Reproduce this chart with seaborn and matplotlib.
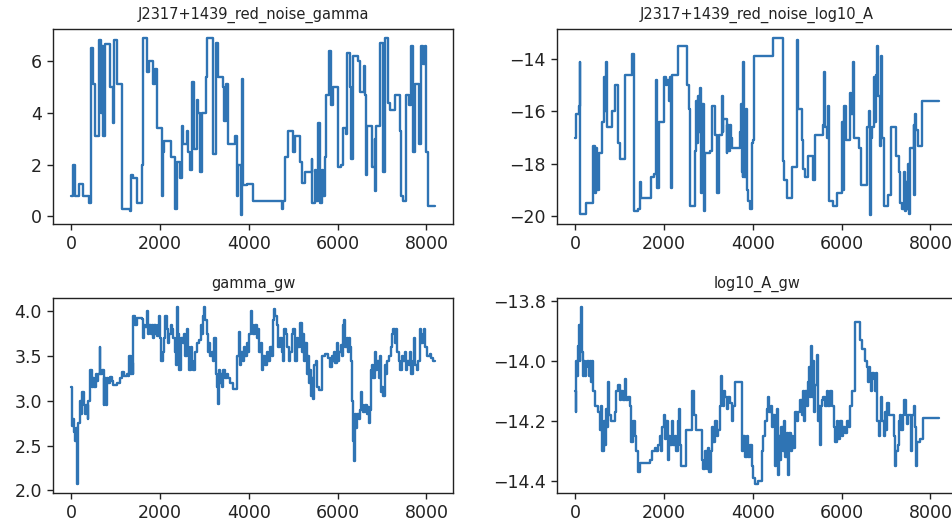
import matplotlib
matplotlib.use("Agg")
import matplotlib.pyplot as plt
import seaborn as sns
import pandas as pd

n_samples = 8190

titles = ["J2317+1439_red_noise_gamma", "J2317+1439_red_noise_log10_A",
          "gamma_gw", "log10_A_gw"]

# --- J2317+1439_red_noise_gamma (step knots: iteration, value)
rn_gamma_iter = [0, 37, 90, 180, 277, 412, 450, 502, 540, 637, 667, 690, 727, 765, 877, 937, 975,
                 1042, 1139, 1327, 1349, 1402, 1477, 1589, 1627, 1702, 1754, 1852, 1889, 1926, 2039,
                 2061, 2091, 2241, 2339, 2376, 2451, 2489, 2526, 2601, 2639, 2676, 2714, 2766, 2826,
                 2864, 2901, 2939, 3036, 3066, 3201, 3261, 3313, 3426, 3441, 3478, 3538, 3688, 3726,
                 3763, 3816, 3853, 3876, 3951, 4101, 4738, 4775, 4813, 4888, 5000, 5038, 5150, 5188,
                 5263, 5413, 5435, 5490, 5525, 5563, 5600, 5638, 5675, 5713, 5735, 5810, 5863, 5900,
                 6012, 6087, 6125, 6200, 6222, 6275, 6312, 6350, 6462, 6500, 6597, 6627, 6649, 6672,
                 6784, 6837, 6852, 6874, 6949, 7024, 7061, 7136, 7174, 7286, 7399, 7436, 7474, 7549,
                 7609, 7661, 7699, 7736, 7833, 7871, 7923, 7961, 7998, 8036]
rn_gamma_val = [0.8, 2.0, 0.8, 1.25, 0.8, 0.5, 6.5, 5.1, 3.1, 6.8, 4.0, 6.6, 3.1, 6.65, 5.0, 3.6, 6.8,
                5.1, 0.3, 0.2, 1.6, 1.5, 0.5, 2.0, 6.9, 5.6, 6.0, 5.1, 5.7, 3.4, 0.8,
                2.5, 2.9, 2.3, 0.3, 2.1, 1.5, 3.5, 2.8, 3.3, 2.5, 1.8, 5.2, 2.6, 4.5,
                4.0, 1.7, 4.0, 5.4, 6.9, 2.4, 6.7, 5.4, 5.0, 3.7, 5.1, 2.8, 3.1, 0.8,
                2.0, 0.05, 5.3, 1.2, 1.25, 0.6, 0.3, 0.6, 2.3, 3.3, 2.5, 3.1, 2.1, 1.3,
                1.7, 2.2, 0.5, 1.8, 0.6, 3.6, 0.5, 1.8, 0.8, 2.3, 4.7, 6.4, 4.3, 5.0,
                1.9, 2.0, 3.4, 3.2, 6.3, 5.0, 2.2, 6.2, 6.0, 4.8, 5.8, 4.7, 1.6, 3.5,
                1.9, 3.0, 1.0, 3.5, 6.7, 1.7, 6.9, 4.4, 4.1, 4.7, 3.3, 0.8, 0.6, 4.7,
                4.3, 6.6, 2.5, 5.1, 2.8, 6.6, 5.9, 6.6, 2.5, 0.4]

# --- J2317+1439_red_noise_log10_A
rn_logA_iter = [0, 23, 75, 98, 113, 248, 399, 437, 459, 489, 527, 610, 640, 662, 685, 715, 835, 896,
                956, 1001, 1114, 1287, 1317, 1415, 1453, 1475, 1701, 1769, 1829, 1851, 1882, 2002,
                2055, 2077, 2107, 2130, 2167, 2190, 2318, 2521, 2559, 2596, 2694, 2732, 2754, 2770,
                2792, 2807, 2845, 2867, 2905, 2928, 3033, 3071, 3146, 3199, 3244, 3296, 3319, 3334,
                3409, 3424, 3454, 3485, 3500, 3530, 3710, 3725, 3748, 3771, 3786, 3808, 3838, 3861,
                3898, 3936, 3974, 4011, 4026, 4463, 4674, 4704, 4764, 4877, 4990, 5012, 5103, 5140,
                5178, 5253, 5366, 5404, 5592, 5615, 5637, 5667, 5690, 5712, 5802, 5908, 6006, 6028,
                6058, 6089, 6194, 6216, 6254, 6284, 6382, 6435, 6570, 6608, 6630, 6660, 6683, 6721,
                6743, 6766, 6796, 6819, 6871, 6886, 6916, 6946, 7037, 7112, 7232, 7285, 7323, 7360,
                7398, 7420, 7443, 7473, 7496, 7526, 7549, 7624, 7639, 7662, 7677, 7714, 7812]
rn_logA_val = [-17.0, -16.1, -15.8, -14.1, -19.9, -19.5, -17.3, -19.1, -17.4, -19.0, -17.6, -16.4,
               -14.7, -16.0, -14.1, -16.6, -16.0, -15.0, -17.2, -17.8, -14.6, -13.8, -19.8, -19.7,
               -18.7, -19.3, -18.5, -18.4, -14.8, -18.9, -16.4, -14.7, -15.0, -14.8, -15.6, -14.7,
               -18.9, -14.6, -13.5, -15.0, -15.9, -19.6, -17.5, -15.6, -17.2, -15.4, -16.8, -15.1,
               -19.1, -15.7, -19.8, -17.6, -17.5, -15.8, -16.9, -19.1, -16.9, -15.4, -16.8, -16.3,
               -17.6, -16.5, -17.5, -16.5, -17.0, -17.4, -16.8, -15.7, -18.3, -18.5, -14.1, -18.5,
               -15.9, -19.0, -19.4, -19.7, -17.2, -17.1, -13.9, -13.2, -17.9, -18.6, -19.3, -18.1,
               -13.3, -15.9, -17.1, -18.2, -18.5, -17.7, -18.6, -16.9, -16.5, -14.5, -16.6, -17.0,
               -15.8, -19.4, -19.6, -19.1, -16.4, -19.0, -15.8, -17.1, -15.3, -16.1, -14.1, -17.0,
               -17.4, -18.8, -16.6, -16.0, -19.95, -17.0, -16.6, -14.7, -16.4, -14.6, -13.5, -15.4,
               -17.3, -13.9, -17.0, -19.6, -19.2, -16.6, -17.7, -18.3, -19.5, -19.7, -18.3, -19.8,
               -18.7, -19.7, -18.0, -19.9, -17.4, -16.5, -19.2, -16.1, -16.7, -17.3, -15.6]

# --- gamma_gw
gw_gamma_iter = [0, 15, 38, 68, 90, 113, 128, 158, 188, 218, 248, 278, 308, 338, 368, 390, 413, 435,
                 458, 488, 518, 548, 578, 608, 638, 653, 690, 728, 750, 773, 803, 840, 878, 915, 953,
                 1028, 1103, 1140, 1193, 1253, 1290, 1313, 1343, 1365, 1388, 1403, 1440, 1478, 1590,
                 1613, 1643, 1673, 1703, 1733, 1763, 1793, 1823, 1853, 1875, 1905, 1928, 1958, 1980,
                 2003, 2033, 2063, 2093, 2123, 2153, 2183, 2213, 2243, 2273, 2303, 2340, 2363, 2385,
                 2415, 2438, 2468, 2513, 2543, 2573, 2603, 2640, 2663, 2693, 2723, 2753, 2783, 2828,
                 2880, 2918, 2948, 2978, 3000, 3023, 3053, 3083, 3113, 3135, 3165, 3203, 3225, 3255,
                 3278, 3300, 3323, 3353, 3375, 3398, 3428, 3465, 3503, 3540, 3578, 3653, 3743, 3773,
                 3803, 3833, 3863, 3893, 3923, 3953, 3983, 4013, 4043, 4073, 4103, 4140, 4178, 4215,
                 4238, 4268, 4298, 4328, 4365, 4403, 4440, 4478, 4515, 4538, 4560, 4590, 4628, 4665,
                 4703, 4740, 4763, 4793, 4838, 4868, 4898, 4928, 4965, 5003, 5040, 5078, 5115, 5153,
                 5190, 5213, 5243, 5273, 5303, 5325, 5355, 5378, 5408, 5430, 5453, 5475, 5513, 5543,
                 5580, 5640, 5715, 5790, 5828, 5865, 5903, 5925, 5948, 5978, 6008, 6038, 6068, 6105,
                 6128, 6150, 6173, 6203, 6225, 6248, 6278, 6300, 6323, 6338, 6368, 6390, 6413, 6435,
                 6473, 6503, 6525, 6548, 6578, 6615, 6653, 6675, 6698, 6728, 6750, 6780, 6803, 6833,
                 6863, 6893, 6923, 6953, 6975, 7005, 7028, 7065, 7088, 7118, 7163, 7193, 7223, 7253,
                 7283, 7313, 7343, 7380, 7403, 7440, 7478, 7515, 7538, 7568, 7598, 7628, 7658, 7688,
                 7718, 7748, 7778, 7815, 7853, 7883, 7913, 7943, 7973, 8003, 8078, 8115, 8153]
gw_gamma_val = [3.16, 2.72, 2.8, 2.65, 2.55, 2.7, 2.07, 2.75, 3.0, 2.85, 3.1, 2.95, 2.85, 2.95, 2.8,
                3.0, 3.15, 3.35, 3.15, 3.25, 3.15, 3.3, 3.22, 3.3, 3.6, 3.3, 3.35, 2.95, 3.25, 2.95,
                3.25, 3.2, 3.27, 3.22, 3.18, 3.2, 3.25, 3.32, 3.28, 3.3, 3.28, 3.5, 3.3, 3.42, 3.3,
                3.95, 3.85, 3.93, 3.92, 3.7, 3.85, 3.82, 4.0, 3.75, 3.85, 3.75, 3.85, 3.7, 3.85,
                3.75, 3.72, 3.85, 3.95, 3.7, 3.45, 3.55, 3.7, 3.95, 3.8, 3.65, 3.75, 3.85, 3.8, 3.7,
                3.55, 3.4, 4.05, 3.75, 3.35, 3.7, 3.65, 3.75, 3.5, 3.8, 3.6, 3.35, 3.6, 3.45, 3.35,
                3.55, 3.65, 3.68, 3.85, 3.75, 3.95, 4.05, 3.9, 3.75, 3.55, 3.65, 3.5, 3.55, 3.45,
                3.7, 3.3, 3.15, 2.97, 3.35, 3.2, 3.3, 3.15, 3.35, 3.25, 3.3, 3.25, 3.2, 3.13, 3.5,
                3.77, 3.4, 3.55, 3.45, 3.6, 3.5, 3.65, 3.55, 3.75, 4.0, 3.85, 3.75, 3.85, 3.7, 3.8,
                3.55, 3.65, 3.35, 3.5, 3.4, 3.55, 3.45, 3.6, 3.5, 3.9, 4.03, 3.95, 3.85, 3.6, 3.7,
                3.55, 3.45, 3.8, 3.75, 3.6, 3.45, 3.55, 3.75, 3.8, 3.45, 3.7, 3.6, 3.87, 3.55, 3.75,
                3.45, 3.65, 3.3, 3.5, 3.2, 3.35, 3.05, 3.25, 3.02, 3.4, 3.45, 3.15, 3.12, 3.5, 3.52,
                3.48, 3.38, 3.5, 3.45, 3.55, 3.42, 3.65, 3.45, 3.55, 3.62, 3.5, 3.85, 3.9, 3.6, 3.7,
                3.55, 3.7, 3.6, 3.45, 3.0, 2.55, 2.33, 2.85, 2.7, 2.85, 2.8, 2.9, 3.1, 2.95, 2.88,
                2.95, 2.85, 2.93, 2.75, 2.9, 3.35, 3.4, 3.25, 3.55, 3.35, 3.45, 3.25, 3.5, 3.1, 3.15,
                3.05, 3.4, 3.3, 3.45, 3.5, 3.6, 3.75, 3.8, 3.65, 3.8, 3.55, 3.45, 3.35, 3.5, 3.45,
                3.55, 3.35, 3.45, 3.4, 3.55, 3.3, 3.45, 3.7, 3.4, 3.35, 3.45, 3.8, 3.65, 3.75, 3.8,
                3.6, 3.5, 3.52, 3.48, 3.45]

# --- log10_A_gw
gw_logA_iter = [0, 8, 15, 30, 53, 75, 98, 113, 128, 151, 173, 196, 218, 248, 271, 301, 324, 346,
                369, 399, 437, 512, 564, 587, 610, 640, 662, 685, 715, 745, 768, 798, 888, 926,
                963, 1001, 1039, 1076, 1114, 1151, 1189, 1227, 1264, 1302, 1340, 1377, 1415, 1453,
                1603, 1678, 1731, 1791, 1829, 1866, 1904, 1942, 1964, 1994, 2024, 2055, 2092, 2115,
                2145, 2175, 2205, 2243, 2280, 2318, 2341, 2371, 2393, 2506, 2634, 2672, 2732, 2852,
                2882, 2920, 2958, 2988, 3018, 3048, 3078, 3108, 3146, 3184, 3221, 3259, 3274, 3296,
                3319, 3349, 3372, 3409, 3447, 3485, 3522, 3560, 3597, 3748, 3786, 3823, 3861, 3898,
                3936, 3974, 4011, 4049, 4124, 4200, 4237, 4275, 4312, 4350, 4373, 4403, 4440, 4463,
                4500, 4523, 4538, 4561, 4583, 4613, 4636, 4674, 4704, 4734, 4764, 4794, 4824, 4854,
                4884, 4914, 4952, 4990, 5027, 5065, 5103, 5140, 5163, 5185, 5215, 5253, 5276, 5298,
                5321, 5343, 5366, 5389, 5411, 5441, 5464, 5487, 5517, 5539, 5569, 5592, 5629, 5667,
                5705, 5742, 5780, 5818, 5840, 5863, 5893, 5930, 5968, 6006, 6043, 6081, 6119, 6156,
                6194, 6231, 6307, 6420, 6457, 6533, 6570, 6593, 6615, 6645, 6668, 6691, 6721, 6743,
                6766, 6796, 6833, 6856, 6886, 6916, 6946, 6969, 6999, 7022, 7059, 7172, 7195, 7232,
                7262, 7293, 7323, 7345, 7383, 7413, 7443, 7473, 7503, 7564, 7594, 7624, 7647, 7669,
                7699, 7774, 7835]
gw_logA_val = [-14.1, -14.17, -14.0, -14.05, -13.95, -13.88, -14.0, -13.88, -13.82, -13.97, -14.05,
               -14.0, -14.05, -14.02, -14.0, -14.05, -14.0, -14.07, -14.0, -14.1, -14.15, -14.17,
               -14.23, -14.15, -14.3, -14.2, -14.28, -14.16, -14.22, -14.07, -14.18, -14.2, -14.17,
               -14.1, -14.08, -14.13, -14.1, -14.13, -14.06, -14.13, -14.12, -14.15, -14.27, -14.2,
               -14.25, -14.3, -14.37, -14.34, -14.34, -14.33, -14.3, -14.29, -14.3, -14.28, -14.25,
               -14.3, -14.22, -14.18, -14.26, -14.2, -14.33, -14.25, -14.28, -14.2, -14.28, -14.25,
               -14.3, -14.2, -14.16, -14.28, -14.35, -14.23, -14.1, -14.18, -14.23, -14.33, -14.36,
               -14.3, -14.36, -14.29, -14.37, -14.3, -14.22, -14.27, -14.2, -14.25, -14.23, -14.15,
               -14.05, -14.12, -14.15, -14.1, -14.12, -14.16, -14.12, -14.14, -14.2, -14.15, -14.07,
               -14.3, -14.25, -14.32, -14.25, -14.32, -14.28, -14.35, -14.39, -14.41, -14.4, -14.3,
               -14.25, -14.2, -14.16, -14.12, -14.17, -14.15, -14.22, -14.18, -14.35, -14.2, -14.16,
               -14.38, -14.25, -14.33, -14.22, -14.3, -14.2, -14.32, -14.24, -14.38, -14.24, -14.3,
               -14.25, -14.29, -14.17, -14.2, -14.17, -14.13, -14.18, -14.1, -14.2, -14.1, -14.15,
               -14.07, -14.02, -14.12, -13.95, -14.12, -14.0, -14.17, -14.08, -13.98, -14.2, -14.15,
               -14.28, -14.15, -14.13, -14.12, -14.15, -14.1, -14.15, -14.1, -14.15, -14.18, -14.22,
               -14.27, -14.2, -14.26, -14.2, -14.25, -14.22, -14.24, -14.2, -14.22, -14.15, -14.1,
               -13.87, -13.93, -13.96, -14.0, -14.02, -14.07, -14.02, -14.05, -14.1, -14.04, -14.06,
               -14.1, -14.04, -14.2, -14.25, -14.2, -14.12, -14.2, -14.25, -14.17, -14.23, -14.14,
               -14.18, -14.25, -14.35, -14.3, -14.28, -14.2, -14.18, -14.23, -14.18, -14.13, -14.18,
               -14.21, -14.18, -14.3, -14.18, -14.15, -14.22, -14.35, -14.27, -14.26, -14.19]

yticks = [[0, 2, 4, 6], [-20, -18, -16, -14], [2.0, 2.5, 3.0, 3.5, 4.0], [-14.4, -14.2, -14.0, -13.8]]
xticks = [0, 2000, 4000, 6000, 8000]

series = [(rn_gamma_iter, rn_gamma_val), (rn_logA_iter, rn_logA_val),
          (gw_gamma_iter, gw_gamma_val), (gw_logA_iter, gw_logA_val)]

sns.set_style("ticks")
plt.rcParams.update({
    "font.family": ["DejaVu Sans"],
    "axes.linewidth": 1.0,
    "axes.edgecolor": "#222222",
    "xtick.major.size": 4.5, "ytick.major.size": 4.5,
    "xtick.major.width": 1.0, "ytick.major.width": 1.0,
    "xtick.labelsize": 12.5, "ytick.labelsize": 12.5,
    "xtick.color": "#222222", "ytick.color": "#222222",
    "xtick.labelcolor": "#222222", "ytick.labelcolor": "#222222",
})

fig = plt.figure(figsize=(9.53, 5.25), dpi=100)
W, H = 953.0, 525.0
boxes = [(53, 29), (557, 29), (53, 298), (557, 298)]
aw, ah = 400, 195

for i, ((xs, ys), (bx, by)) in enumerate(zip(series, boxes)):
    ax = fig.add_axes([bx / W, 1 - (by + ah) / H, aw / W, ah / H])
    df = pd.DataFrame({"iteration": list(xs) + [n_samples], "value": list(ys) + [ys[-1]]})
    sns.lineplot(data=df, x="iteration", y="value", ax=ax, color="#2f74b4",
                 linewidth=1.7, drawstyle="steps-post", estimator=None)
    ax.set_xlabel("")
    ax.set_ylabel("")
    ax.set_xticks(xticks)
    ax.set_yticks(yticks[i])
    ax.margins(x=0.05, y=0.05)
    ax.set_title(titles[i], fontsize=10.5, pad=7, color="#222222")
    for s in ax.spines.values():
        s.set_visible(True)

fig.savefig("out.png", dpi=100)
